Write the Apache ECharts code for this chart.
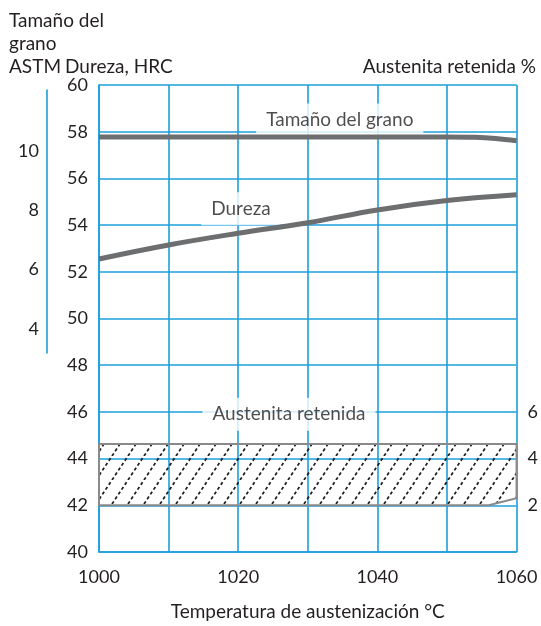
<!DOCTYPE html>
<html>
<head>
<meta charset="utf-8">
<script src="https://cdn.jsdelivr.net/npm/echarts@6/dist/echarts.min.js"></script>
<style>
html,body{margin:0;padding:0;background:#fff;}
#chart{width:541px;height:626px;}
#err{position:absolute;left:0;top:0;color:red;font:10px sans-serif;}
</style>
</head>
<body>
<div id="chart"></div>
<div id="err"></div>
<script>
window.onerror = function (m) { document.getElementById('err').textContent += ' ' + m; };
// ---- data ----
const temps = [1000, 1010, 1020, 1030, 1040, 1050, 1060];
const durezaHRC = [52.55, 53.15, 53.65, 54.1, 54.65, 55.05, 55.3];
const grainTemps = [1000, 1010, 1020, 1030, 1040, 1050, 1054, 1057, 1060];
const grainASTM = [10.47, 10.47, 10.47, 10.47, 10.47, 10.47, 10.46, 10.42, 10.34];
const austTemps = [1000, 1010, 1020, 1030, 1040, 1050, 1056, 1060];
const austLow = [2.0, 2.0, 2.0, 2.0, 2.0, 2.0, 2.0, 2.3];
const austHigh = [4.62, 4.62, 4.62, 4.62, 4.62, 4.62, 4.62, 4.62];
const hrcTicks = [40, 60, 2];
const astmLabels = [4, 6, 8, 10];
const austLabels = [2, 4, 6];
const xLabelEvery = 20;
const annotations = [
  {name: 'Tamaño del grano', value: [1034.6, 58.5]},
  {name: 'Dureza', value: [1020.4, 54.7]},
  {name: 'Austenita retenida', value: [1027.3, 45.9]}
];

// ---- styles ----
const BLUE = '#1c9fdb';
const GRAY = '#6d6e70';
const EDGE = '#8a8a8a';
const TXT = '#231f20';
const FONT = 'Lato';
const FS_TXT = 19;
const FS_NUM = 18;

function hatchPattern() {
  const W = 16, H = 24;
  const c = document.createElement('canvas');
  c.width = W; c.height = H;
  const g = c.getContext('2d');
  g.strokeStyle = '#1a1a1a';
  g.lineWidth = 1.7;
  const L = Math.hypot(W, H), n = 5;
  g.setLineDash([L / n * 0.55, L / n * 0.45]);
  for (const dx of [-W, 0, W]) {
    g.beginPath();
    g.moveTo(dx, H);
    g.lineTo(dx + W, 0);
    g.stroke();
  }
  return c;
}
const hatch = hatchPattern();

const chart = echarts.init(document.getElementById('chart'), null, {renderer: 'canvas'});

const txt = (s, extra) => Object.assign({text: s, fill: TXT, font: FS_TXT + 'px ' + FONT, textVerticalAlign: 'middle'}, extra || {});

const option = {
  animation: false,
  backgroundColor: '#fff',
  textStyle: {fontFamily: FONT},
  grid: [
    {left: 99, right: 24, top: 85, bottom: 69, containLabel: false},
    {left: 47, width: 5, top: 90, height: 263, containLabel: false}
  ],
  xAxis: [
    {
      type: 'value', gridIndex: 0, min: temps[0], max: temps[temps.length - 1], interval: 10,
      axisLine: {show: true, lineStyle: {color: BLUE, width: 1.6}},
      axisTick: {show: false},
      splitLine: {show: true, lineStyle: {color: BLUE, width: 1.6}},
      axisLabel: {
        color: TXT, fontSize: FS_NUM, fontFamily: FONT, margin: 16,
        formatter: v => (v % xLabelEvery === 0 ? String(v) : '')
      },
      name: 'Temperatura de austenización °C', nameLocation: 'middle', nameGap: 50,
      nameTextStyle: {color: TXT, fontSize: FS_TXT, fontFamily: FONT}
    },
    {type: 'value', gridIndex: 1, min: 0, max: 1, show: false}
  ],
  yAxis: [
    {
      type: 'value', gridIndex: 0, min: hrcTicks[0], max: hrcTicks[1], interval: hrcTicks[2], position: 'left',
      axisLine: {show: true, lineStyle: {color: BLUE, width: 1.6}},
      axisTick: {show: false},
      splitLine: {show: true, lineStyle: {color: BLUE, width: 1.6}},
      axisLabel: {color: TXT, fontSize: FS_NUM, fontFamily: FONT, margin: 11, padding: [5, 0, 0, 0]}
    },
    {
      type: 'value', gridIndex: 0, min: 0, max: 20, interval: 2, position: 'right',
      axisLine: {show: false}, axisTick: {show: false}, splitLine: {show: false},
      axisLabel: {
        color: TXT, fontSize: FS_NUM, fontFamily: FONT, margin: 11, padding: [6, 0, 0, 0],
        formatter: v => (austLabels.indexOf(v) >= 0 ? String(v) : '')
      }
    },
    {type: 'value', gridIndex: 0, min: -3.72, max: 12.25, show: false},
    {
      type: 'value', gridIndex: 1, min: 3.18, max: 12.08, position: 'left',
      axisLine: {show: true, lineStyle: {color: BLUE, width: 1.6}},
      axisTick: {show: false},
      splitLine: {show: false},
      axisLabel: {color: TXT, fontSize: FS_NUM, fontFamily: FONT, margin: 8, customValues: astmLabels}
    }
  ],
  graphic: [
    {type: 'text', x: 9, y: 21, style: txt('Tamaño del')},
    {type: 'text', x: 9, y: 44, style: txt('grano')},
    {type: 'text', x: 9, y: 67, style: txt('ASTM')},
    {type: 'text', x: 65, y: 67, style: txt('Dureza, HRC')},
    {type: 'text', x: 536, y: 67, style: txt('Austenita retenida %', {textAlign: 'right'})}
  ],
  series: [
    {
      name: 'Austenita retenida', type: 'custom', xAxisIndex: 0, yAxisIndex: 1,
      data: austTemps.map((t, i) => [t, austLow[i], austHigh[i]]),
      encode: {x: 0, y: [1, 2]}, silent: true, z: 3,
      renderItem: function (params, api) {
        if (params.dataIndex !== 0) return {type: 'group', children: []};
        const top = austTemps.map((t, i) => api.coord([t, austHigh[i]]));
        const bot = austTemps.map((t, i) => api.coord([t, austLow[i]])).reverse();
        return {
          type: 'polygon',
          shape: {points: top.concat(bot)},
          style: {fill: {image: hatch, repeat: 'repeat'}, stroke: EDGE, lineWidth: 2}
        };
      }
    },
    {
      name: 'Dureza', type: 'line', xAxisIndex: 0, yAxisIndex: 0, smooth: 0.4, symbol: 'none',
      data: temps.map((t, i) => [t, durezaHRC[i]]),
      lineStyle: {color: GRAY, width: 5}, z: 5
    },
    {
      name: 'Tamaño del grano', type: 'line', xAxisIndex: 0, yAxisIndex: 2, smooth: 0.4, symbol: 'none',
      data: grainTemps.map((t, i) => [t, grainASTM[i]]),
      lineStyle: {color: GRAY, width: 5}, z: 5
    },
    {
      name: 'labels', type: 'scatter', xAxisIndex: 0, yAxisIndex: 0, symbolSize: 1,
      itemStyle: {color: 'rgba(0,0,0,0)'}, silent: true, z: 4,
      data: annotations,
      label: {
        show: true, position: 'inside', formatter: p => p.name,
        color: TXT, fontSize: FS_TXT, fontFamily: FONT,
        backgroundColor: '#fff', padding: [7, 10]
      }
    }
  ]
};
chart.setOption(option);
</script>
</body>
</html>
